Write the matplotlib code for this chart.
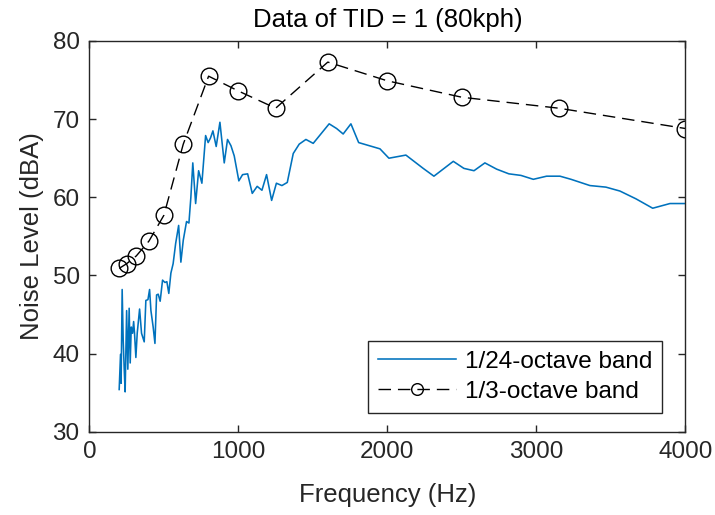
import matplotlib
matplotlib.use('Agg')
import matplotlib.pyplot as plt

plt.rcParams['font.family'] = ['Liberation Sans', 'DejaVu Sans']

# 1/24-octave band spectrum
f24 = [200, 209, 213, 220, 227, 234, 240, 250, 258, 267, 274, 281, 290, 297,
       303, 312, 321, 337, 350, 368, 379, 393, 404, 413, 428, 440, 451, 462,
       475, 491, 507, 520, 533, 547, 562, 579, 599, 614, 630, 652, 668, 681,
       694, 713, 733, 755, 780, 797, 813, 829, 851, 876, 905, 927, 950, 972,
       1003, 1028, 1062, 1093, 1126, 1158, 1189, 1223, 1255, 1292, 1328, 1368,
       1408, 1453, 1502, 1609, 1659, 1703, 1755, 1807, 1950, 2010, 2124, 2240,
       2312, 2442, 2513, 2581, 2654, 2733, 2815, 2896, 2979, 3068, 3158, 3232,
       3359, 3466, 3560, 3668, 3780, 3896, 4000]
L24 = [35.4, 39.9, 36.2, 48.2, 41.7, 37.9, 35.1, 45.5, 38.0, 45.8, 38.8, 43.4,
       42.6, 44.1, 42.6, 39.5, 42.6, 45.7, 42.6, 41.5, 46.8, 46.9, 48.2, 45.5,
       43.4, 41.3, 47.5, 47.6, 46.7, 49.4, 49.1, 49.2, 47.7, 50.3, 51.5, 54.1,
       56.4, 51.7, 54.5, 56.9, 56.7, 60.0, 64.4, 59.2, 63.4, 61.8, 67.9, 67.0,
       67.6, 68.5, 66.5, 69.6, 64.4, 67.4, 66.6, 65.3, 62.1, 62.9, 63.0, 60.5,
       61.4, 60.9, 62.9, 59.6, 61.8, 61.5, 61.9, 65.6, 66.8, 67.4, 66.9, 69.4,
       68.8, 68.1, 69.4, 67.0, 66.2, 65.0, 65.4, 63.7, 62.7, 64.6, 63.7, 63.4,
       64.4, 63.6, 63.0, 62.8, 62.3, 62.7, 62.7, 62.3, 61.5, 61.3, 60.8, 59.8,
       58.6, 59.2, 59.2]

# 1/3-octave bands
f3 = [200, 250, 315, 400, 500, 630, 800, 1000, 1250, 1600, 2000, 2500, 3150, 4000]
L3 = [50.9, 51.5, 52.5, 54.4, 57.7, 66.8, 75.5, 73.6, 71.4, 77.3, 74.9, 72.8, 71.4, 68.8]

fig = plt.figure(figsize=(7.15, 5.15), dpi=100)
ax = fig.add_axes([0.125, 0.1617, 0.8337, 0.7587])

ax.plot(f24, L24, color='#0072BD', lw=1.15, label='1/24-octave band')
ax.plot(f3, L3, color='black', lw=1.0, ls=(0, (9, 5)), marker='o', ms=12,
        mfc='none', mec='black', mew=1.0, label='1/3-octave band')

ax.set_xlim(0, 4000)
ax.set_ylim(30, 80)
ax.set_xticks([0, 1000, 2000, 3000, 4000])
ax.set_yticks([30, 40, 50, 60, 70, 80])

edge = '#262626'
for s in ax.spines.values():
    s.set_color(edge)
    s.set_linewidth(1.0)
ax.tick_params(direction='in', top=True, right=True, length=5, width=1.0,
               colors=edge, labelsize=17.5, pad=7)

ax.set_title('Data of TID = 1 (80kph)', fontsize=18.5, color='black', pad=10)
ax.set_xlabel('Frequency (Hz)', fontsize=18.5, color=edge, labelpad=14)
ax.set_ylabel('Noise Level (dBA)', fontsize=18.5, color=edge, labelpad=6)

leg = ax.legend(loc='lower right', fontsize=17.5, handlelength=3.2,
                handletextpad=0.35, labelspacing=0.32, borderpad=0.42,
                borderaxespad=0, fancybox=False, framealpha=1, markerscale=0.7,
                bbox_to_anchor=(0.961, 0.048))
leg.get_frame().set_edgecolor(edge)
leg.get_frame().set_linewidth(1.0)

fig.savefig('out.png', dpi=100)
